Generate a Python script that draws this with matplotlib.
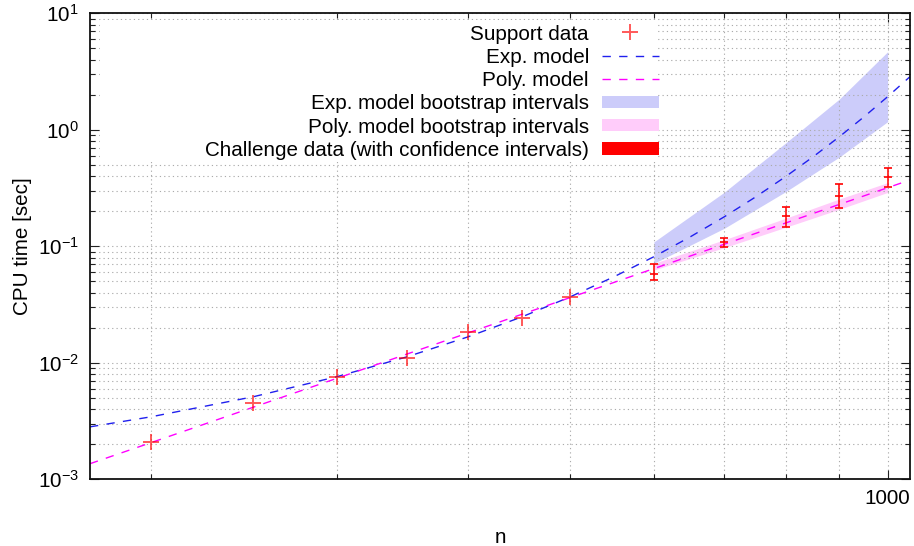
import matplotlib
matplotlib.use("Agg")
import matplotlib.pyplot as plt
import numpy as np
from matplotlib.patches import Rectangle
from matplotlib.ticker import FixedLocator, FixedFormatter, NullFormatter

plt.rcParams["font.family"] = ["Liberation Sans", "DejaVu Sans"]
plt.rcParams["font.size"] = 14.9

# support data (measured)
support_n = [200, 250, 300, 350, 400, 450, 500]
support_t = [0.00208, 0.00449, 0.00751, 0.01107, 0.01828, 0.02438, 0.0369]

# fitted model curves
model_n = [175, 200, 250, 300, 350, 400, 450, 500, 550, 600,
           650, 700, 750, 800, 850, 900, 950, 1000, 1050]
exp_model_t = [0.00282, 0.00344, 0.00511, 0.00759, 0.01127, 0.01673, 0.02485,
               0.0369, 0.0548, 0.0814, 0.1209, 0.1795, 0.2666, 0.396, 0.588,
               0.873, 1.296, 1.925, 2.86]
poly_model_t = [0.001361, 0.002065, 0.004156, 0.007348, 0.01191, 0.01809,
                0.02615, 0.03637, 0.04901, 0.06437, 0.08268, 0.1043, 0.1294,
                0.1584, 0.1915, 0.2290, 0.2713, 0.3184, 0.3710]

# bootstrap intervals
band_n = [600, 700, 800, 900, 1000]
exp_band_lo = [0.0714, 0.143, 0.294, 0.584, 1.175]
exp_band_hi = [0.109, 0.292, 0.77, 1.84, 4.68]
poly_band_lo = [0.0626, 0.0975, 0.1455, 0.208, 0.290]
poly_band_hi = [0.0714, 0.114, 0.174, 0.255, 0.352]

# challenge data with confidence intervals
challenge_n = [600, 700, 800, 900, 1000]
challenge_t = [0.0575, 0.1084, 0.182, 0.272, 0.391]
challenge_lo = [0.0511, 0.0977, 0.1455, 0.2144, 0.325]
challenge_hi = [0.0700, 0.1167, 0.219, 0.344, 0.468]

x_minor = [200, 300, 400, 500, 600, 700, 800, 900]
x_major = [1000]
x_major_labels = ["1000"]

labels = ["Support data", "Exp. model", "Poly. model",
          "Exp. model bootstrap intervals", "Poly. model bootstrap intervals",
          "Challenge data (with confidence intervals)"]

blue = "#2020ee"
magenta = "#ff00ff"
red = "#ff0000"
blue_fill = "#ccccfa"
pink_fill = "#ffccfa"

fig = plt.figure(figsize=(9.14, 5.46), dpi=100)
W, H = 914, 546
ax = fig.add_axes([90 / W, 1 - 479.3 / H, 820 / W, 466 / H])
ax.set_xscale("log")
ax.set_yscale("log")
ax.set_xlim(175, 1050)
ax.set_ylim(1e-3, 1e1)

ax.fill_between(band_n, exp_band_lo, exp_band_hi, color=blue_fill, lw=0, zorder=1)
ax.fill_between(band_n, poly_band_lo, poly_band_hi, color=pink_fill, lw=0, zorder=1)

ax.plot(model_n, exp_model_t, color=blue, lw=1.0, dashes=(6, 6), zorder=2)
ax.plot(model_n, poly_model_t, color=magenta, lw=1.0, dashes=(6, 6), zorder=2)

ax.plot(support_n, support_t, "+", color=red, alpha=0.65, ms=12, mew=1.4, zorder=3)

t = np.array(challenge_t)
yerr = [t - np.array(challenge_lo), np.array(challenge_hi) - t]
ax.errorbar(challenge_n, challenge_t, yerr=yerr, fmt="_", color=red, ms=6,
            mew=1.4, elinewidth=1.3, capsize=2.6, capthick=1.3, alpha=0.85,
            zorder=3)

# axes, ticks, grid
ax.set_axisbelow("line")
ax.xaxis.set_major_locator(FixedLocator(x_major))
ax.xaxis.set_major_formatter(FixedFormatter(x_major_labels))
ax.xaxis.set_minor_locator(FixedLocator(x_minor))
ax.xaxis.set_minor_formatter(NullFormatter())
ax.yaxis.set_minor_formatter(NullFormatter())
ax.tick_params(which="both", direction="in", top=True, right=True, width=0.8,
               color="#222222")
ax.tick_params(which="major", length=6.5)
ax.tick_params(which="minor", length=3.6)
ax.tick_params(axis="x", which="major", pad=7)
ax.tick_params(axis="y", which="major", pad=8)
for s in ax.spines.values():
    s.set_linewidth(1.3)
    s.set_color("#111111")
ax.grid(which="both", color="#ababab", lw=0.8, linestyle=(0, (1.1, 2.8)))

ax.set_xlabel("n")
ax.xaxis.set_label_coords(0.5, -0.104)
ax.set_ylabel("CPU time [sec]")
ax.yaxis.set_label_coords(-0.071, 0.5)

# opaque key box, gnuplot style
ax.add_patch(Rectangle((0.012, 0.681), 0.6917 - 0.012, 0.3046,
                       transform=ax.transAxes, facecolor="white",
                       edgecolor="none", zorder=1.7))
tx, s0, s1 = 0.6085, 0.6244, 0.6939
row0, step = 0.9588, 0.0497
tr = ax.transAxes
for i, lab in enumerate(labels):
    y = row0 - i * step
    ax.text(tx, y - 0.0158, lab, transform=tr, ha="right", va="baseline", zorder=4)
ax.plot([0.6585], [row0], "+", color=red, alpha=0.65, ms=12, mew=1.4,
        transform=tr, zorder=4)
ax.plot([s0, s1], [row0 - step] * 2, color=blue, lw=1.0, dashes=(6, 6),
        transform=tr, zorder=4)
ax.plot([s0, s1], [row0 - 2 * step] * 2, color=magenta, lw=1.0, dashes=(6, 6),
        transform=tr, zorder=4)
for i, c in [(3, blue_fill), (4, pink_fill), (5, red)]:
    ax.add_patch(Rectangle((s0, row0 - i * step - 0.0135), s1 - s0, 0.027,
                           transform=tr, facecolor=c, edgecolor="none", zorder=4))

fig.savefig("out.png", dpi=100)
